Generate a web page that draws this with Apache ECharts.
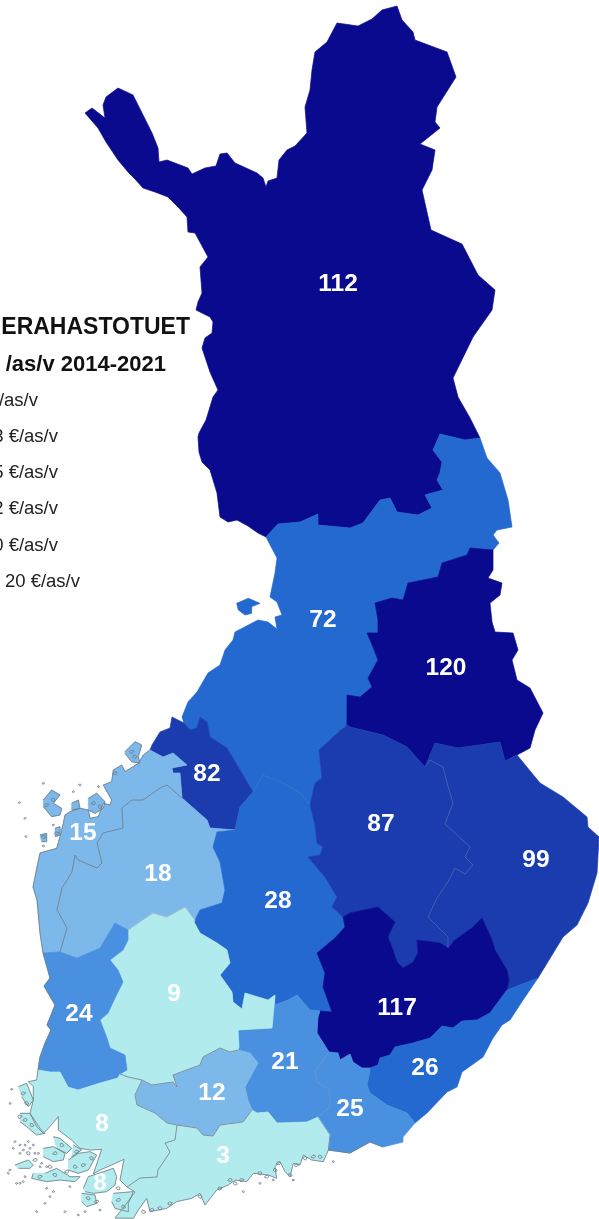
<!DOCTYPE html>
<html><head><meta charset="utf-8">
<style>html,body{margin:0;padding:0;background:#fff}#c{width:599px;height:1219px;overflow:hidden}</style>
<script src="https://cdn.jsdelivr.net/npm/echarts@6/dist/echarts.min.js"></script>
</head><body><div id="c"></div>
<script>
// ---------- values ----------
const regionNames = ['Lappi','Pohjois-Pohjanmaa','Kainuu','Keski-Pohjanmaa','Pohjanmaa','Etelä-Pohjanmaa','Keski-Suomi','Pohjois-Savo','Pohjois-Karjala','Etelä-Savo','Etelä-Karjala','Kymenlaakso','Päijät-Häme','Kanta-Häme','Pirkanmaa','Satakunta','Varsinais-Suomi','Uusimaa','Ahvenanmaa'];
const regionValues = [112,72,120,82,15,18,28,87,99,117,26,25,21,12,9,24,8,3,8];
const titleLines = ['ERAHASTOTUET','/as/v 2014-2021'];
const legendLabels = ['/as/v','3 €/as/v','5 €/as/v','2 €/as/v','0 €/as/v','20 €/as/v'];
const binLower = [0,10,20,26,80,110];
const binUpper = [10,20,26,80,110,130];
const binColors = ['#b2ebee','#7cb8e9','#4a90e0','#2469cf','#1b3cae','#0a0a8f'];

// ---------- region geometry: shared borders, in picture space ----------
const rev = a => a.slice().reverse();
const z = (ox,oy) => pts => pts.map(p => [ox+p[0]/3, oy+p[1]/3]);
const z8 = z(0,1070), z9 = z(120,1130), z10 = z(10,720);

const lapOuter = [[266,537],[258,533],[248,526],[237,520],[228,522],[220,517],[217,493],[210,470],[202,462],[199,452],[198,437],[199,433],[206,420],[213,397],[218,390],[210,372],[202,348],[205,338],[212,333],[213,322],[210,317],[196,310],[198,302],[202,293],[200,267],[208,257],[195,233],[188,232],[187,217],[178,207],[168,197],[155,192],[143,188],[134,178],[128,172],[118,160],[106,142],[98,128],[85,113],[92,108],[105,118],[103,105],[106,97],[118,88],[133,95],[152,133],[158,148],[159,162],[167,160],[188,168],[192,174],[205,168],[216,166],[220,154],[227,153],[235,163],[257,173],[263,178],[266,187],[268,181],[277,178],[279,160],[287,150],[295,146],[307,133],[305,107],[310,90],[312,70],[315,52],[327,42],[337,23],[358,26],[372,19],[382,10],[397,6],[402,20],[413,32],[415,40],[447,52],[456,77],[437,107],[435,122],[440,128],[420,144],[435,150],[432,170],[422,190],[431,230],[462,244],[478,275],[495,290],[492,310],[473,337],[453,378],[458,397],[470,418],[480,438]];
const lap72 = [[480,438],[465,440],[440,434],[433,450],[442,462],[440,473],[437,480],[443,490],[425,495],[432,508],[418,515],[397,512],[390,498],[380,500],[363,523],[350,528],[318,525],[318,514],[300,522],[278,524],[266,537]];
const coast72 = [[266,537],[277,558],[275,573],[270,597],[277,602],[282,615],[275,617],[277,629],[268,622],[258,620],[235,632],[233,640],[225,650],[220,665],[208,673],[197,692],[188,702],[182,717],[184,723]];
const a72_82 = [[184,723],[190,730],[197,728],[200,717],[207,722],[210,737],[227,748],[240,770],[253,792]];
const a72_28 = [[253,792],[260,780],[263,775],[283,783],[300,793],[310,805]];
const a72_87 = [[310,805],[315,783],[322,778],[319,750],[334,736],[347,725]];
const a72_120 = [[347,725],[347,695],[360,697],[372,687],[368,678],[378,660],[373,647],[367,633],[378,633],[378,620],[375,603],[392,598],[403,600],[408,583],[438,577],[442,563],[467,555],[470,548],[493,550]];
const east72 = [[493,550],[499,543],[493,535],[497,530],[512,527],[508,500],[500,473],[487,458],[480,438]];
const a120_87 = [[347,725],[350,727],[383,735],[407,747],[425,767]];
const a120_99 = [[425,767],[435,743],[458,748],[500,742],[505,761],[517,755]];
const east120 = [[517,755],[530,748],[535,730],[543,713],[530,688],[517,680],[512,660],[518,650],[513,633],[495,632],[492,622],[490,603],[500,595],[502,583],[488,578],[493,570],[493,550]];
const a87_99 = [[425,767],[430,760],[443,767],[447,783],[453,803],[445,824],[470,847],[465,857],[473,865],[465,874],[455,868],[448,882],[437,898],[428,917],[448,937],[448,948]];
const a87_117 = [[448,948],[440,943],[417,940],[418,953],[413,962],[403,968],[397,962],[393,950],[388,937],[395,922],[378,907],[350,913],[343,917]];
const a87_28 = [[343,917],[332,907],[337,897],[325,877],[313,863],[308,857],[320,855],[323,847],[317,843],[315,825],[310,805]];
const a99_117 = [[448,948],[455,940],[473,927],[482,918],[492,940],[495,950],[507,970],[509,980],[507,990]];
const a99_26 = [[507,990],[538,978]];
const east99 = [[538,978],[563,937],[577,925],[588,903],[597,873],[599,837],[588,827],[587,817],[563,797],[540,783],[517,755]];
const a117_26 = [[507,990],[490,1013],[477,1020],[462,1021],[453,1028],[442,1026],[430,1038],[413,1043],[395,1047],[390,1055],[380,1058],[378,1065],[370,1068]];
const a117_25 = [[370,1068],[362,1068],[353,1062],[350,1054],[340,1060],[338,1053],[329,1052]];
const a117_21 = [[329,1052],[317,1033],[318,1017],[320,1011]];
const a117_28 = [[320,1011],[332,1012],[323,987],[325,973],[317,953],[335,938],[345,927],[343,917]];
const a28_21 = [[320,1011],[310,1010],[297,995],[288,1000],[275,1005],[275,995]];
const a28_9 = [[275,995],[268,1000],[245,993],[242,1009],[233,1002],[232,992],[220,975],[230,963],[227,950],[217,943],[200,933],[194,922]];
const a28_18 = [[194,922],[200,910],[222,903],[225,890],[220,862],[213,847],[217,832],[235,830]];
const a28_82 = [[235,830],[240,807],[253,792]];
const a9_21 = [[275,995],[272,1028],[238,1030],[239,1047],[238,1050]];
const a9_12 = [[238,1050],[230,1052],[220,1048],[203,1057],[200,1065],[173,1075],[177,1087],[173,1082],[152,1085],[142,1080]];
const a9_8 = [[142,1080],[128,1077],[120,1074]];
const a9_24 = [[120,1074],[127,1070],[125,1055],[110,1048],[107,1038],[100,1020],[108,1013],[115,998],[123,982],[118,970],[110,960],[123,950],[128,940],[128,930]];
const a9_18 = [[128,930],[153,913],[167,917],[185,907],[195,920],[194,922]];
const a12_21 = [[238,1050],[250,1053],[258,1063],[245,1087],[248,1100],[252,1110]];
const a12_3 = [[252,1110],[243,1122],[220,1125],[213,1136],[203,1135],[197,1128],[177,1125]];
const a12_8 = [[177,1125],[167,1123],[155,1113],[137,1105],[135,1095],[142,1080]];
const a21_3 = [[252,1110],[257,1113],[268,1112],[277,1123],[307,1122],[318,1117]];
const a25_21 = [[318,1117],[330,1107],[330,1090],[317,1082],[315,1072],[329,1052]];
const a25_3 = [[318,1117],[330,1135]];
const coast25 = [[330,1135],[328,1150],[350,1153],[370,1142],[383,1147],[403,1142],[403,1137],[415,1123]];
const a25_26 = [[415,1123],[407,1113],[387,1105],[370,1093],[367,1085],[370,1070],[370,1068]];
const coast26 = [[415,1123],[427,1113],[447,1092],[457,1087],[462,1072],[483,1057],[493,1038],[502,1025],[510,1020],[523,1000],[538,978]];
const coast3 = [[330,1135]].concat(z9([[625,60],[610,95],[575,90],[550,75],[540,105],[520,100],[510,140],[495,125],[480,95],[465,110],[470,145],[445,135],[400,130],[380,155],[345,150],[325,165],[290,180],[255,225],[240,190],[215,205],[170,215],[140,235],[90,245],[80,205],[55,240],[40,265]]),[[115,1218],[127,1203],[135,1192],[127,1187]]);
const a3_8 = [[127,1187],[140,1178],[157,1177],[158,1170],[170,1152],[165,1143],[175,1140],[177,1125]];
const coast8 = [[127,1187]].concat(z8([[360,330],[372,268],[335,285],[300,300],[280,312],[305,238],[270,240],[240,235],[215,210],[175,180],[175,140],[145,175],[130,190],[110,170],[90,130],[100,90],[100,50],[85,35],[110,30],[114,0]]));
const a24_8 = [[38,1070],[50,1072],[60,1072],[68,1087],[78,1090],[100,1083],[118,1078],[120,1074]];
const a24_18 = [[128,930],[115,923],[100,948],[77,958],[60,952]];
const a15_24 = [[60,952],[43,953]];
const coast24 = [[43,953],[50,978],[44,986],[55,1005],[47,1025],[51,1030],[45,1043],[40,1057],[38,1070]];
const a15_18 = [[182,798],[167,785],[160,788],[143,800],[132,800],[122,808],[123,828],[103,833],[97,843],[102,863],[97,868],[78,860],[75,855],[72,872],[62,888],[57,910],[67,928],[60,952]];
const a15_82 = [[182,798],[180,773],[173,773],[172,768],[187,765],[173,753],[163,757],[150,750]];
const a82_18 = [[235,830],[210,828],[207,820],[182,798]];
const coast82 = [[150,750],[152,745],[160,732],[170,728],[172,717],[184,723]];
const coast15 = [[150,750]].concat(z10([[400,105],[385,130],[345,155],[335,135],[310,150],[305,185],[280,195],[305,240],[300,255],[280,250],[265,290],[240,295],[235,270],[210,265],[180,275],[165,285],[160,310],[150,350],[140,385]]),[[40,853],[37,867],[33,887],[37,900],[40,933],[43,953]]);

// islands
const hailuoto = z(180,430)([[170,520],[205,505],[240,520],[215,530],[215,550],[195,555],[175,540]]);
const islands15 = [[[100,240],[125,210],[150,225],[130,250],[155,265],[150,285],[125,290],[100,260]],[[235,235],[260,220],[285,245],[280,265],[255,280],[235,270]],[[185,250],[205,240],[210,265],[185,270]],[[345,95],[375,65],[395,75],[385,110],[390,130],[365,125],[345,100]],[[90,345],[110,340],[110,365],[95,365]],[[135,325],[150,320],[150,345],[135,350]]].map(z10);
const islands8 = [[[250,355],[265,320],[290,312],[340,295],[350,320],[345,345],[320,365],[280,370],[255,365]],[[205,270],[235,250],[270,245],[290,255],[265,300],[235,310],[205,300]],[[130,235],[160,230],[195,250],[190,270],[160,275],[130,260]],[[135,310],[170,295],[210,320],[240,320],[225,335],[180,330],[140,335],[95,325],[100,310]],[[60,130],[90,130],[120,175],[135,190],[110,195],[80,170],[60,155]],[[55,50],[80,40],[100,90],[85,110],[65,80]],[[45,285],[85,270],[100,285],[90,295],[55,295]],[[245,370],[285,375],[290,400],[260,410],[245,395]],[[340,370],[400,365],[385,400],[385,425],[345,415],[335,395]],[[160,200],[180,205],[215,235],[200,250],[170,235]],[[220,225],[245,240],[215,260]]].map(z8);
// small irregular skerry outlines, turned a quarter per item so they do not read as a repeated glyph
const skerryShape = [[-1,-0.1],[-0.3,-0.8],[1,-0.4],[0.5,0.6],[-0.5,1],[-1,-0.1]];
const skerry = (c,r,i) => skerryShape.map(p => {
  const q = [[p[0],p[1]],[-p[1],p[0]],[-p[0],-p[1]],[p[1],-p[0]]][i%4];
  return [c[0]+q[0]*r, c[1]+q[1]*r*0.8];
});
const specks = [].concat(
  z8([[45,215],[85,215],[70,240],[100,225],[115,250],[40,235],[60,250],[75,320],[30,300],[25,310],[35,58],[30,100],[135,400],[150,380],[160,365],[110,425],[195,425],[235,435],[140,355],[120,290],[60,340],[210,350],[90,235],[75,225],[60,225],[105,250],[125,280],[140,290],[50,340],[70,335],[255,425],[300,420]]),
  z10([[100,190],[210,195],[190,215],[265,200],[45,295],[48,350],[28,248],[100,378],[130,315]]),
  z9([[370,185],[420,160],[460,150],[520,150],[640,95]])
).map((c,i)=>skerry(c,1.2,i));
const shoreLoops = [].concat(
  z8([[70,70],[80,100],[75,150],[95,165],[60,140],[85,250],[105,270],[150,290],[120,320],[165,315],[200,305],[225,290],[250,285],[275,265],[165,250],[185,225],[230,245],[265,385],[355,390],[370,410],[290,395],[355,355]]),
  z9([[330,150],[345,160],[365,150],[420,130],[440,140],[465,120],[530,105],[555,85],[580,80],[600,80],[150,220],[120,235],[95,240],[70,245],[300,175],[240,200],[475,100],[510,135]]),
  z10([[110,255],[130,240],[250,250],[270,260],[365,95],[375,110],[315,160],[100,350],[140,340]])
).map((c,i)=>skerry(c,2.2,i));

const ring = (...arcs) => [].concat(...arcs);
const shapes = {
  'Lappi':[ring(lapOuter,lap72)],
  'Pohjois-Pohjanmaa':[ring(lap72,coast72,a72_82,a72_28,a72_87,a72_120,east72),hailuoto],
  'Kainuu':[ring(rev(a72_120),a120_87,a120_99,east120)],
  'Keski-Pohjanmaa':[ring(a82_18,a15_82,coast82,a72_82,rev(a28_82))],
  'Pohjanmaa':[ring(rev(a15_18),a15_82,coast15,a15_24)].concat(islands15),
  'Etelä-Pohjanmaa':[ring(a9_18,a28_18,a82_18,a15_18,rev(a24_18))],
  'Keski-Suomi':[ring(a72_28,rev(a87_28),rev(a117_28),a28_21,a28_9,a28_18,a28_82)],
  'Pohjois-Savo':[ring(a72_87,a120_87,a87_99,a87_117,a87_28)],
  'Pohjois-Karjala':[ring(rev(a120_99),a87_99,a99_117,a99_26,east99)],
  'Etelä-Savo':[ring(rev(a87_117),a99_117,a117_26,a117_25,a117_21,a117_28)],
  'Etelä-Karjala':[ring(a117_26,rev(a25_26),coast26,rev(a99_26))],
  'Kymenlaakso':[ring(rev(a25_21),a25_3,coast25,a25_26,a117_25)],
  'Päijät-Häme':[ring(a9_21,a12_21,a21_3,a25_21,a117_21,a28_21)],
  'Kanta-Häme':[ring(rev(a9_12),a12_21,a12_3,a12_8)],
  'Pirkanmaa':[ring(rev(a28_9),a9_21,a9_12,a9_8,a9_24,a9_18)],
  'Satakunta':[ring(a24_8,a9_24,a24_18,a15_24,coast24)],
  'Varsinais-Suomi':[ring(rev(a3_8),coast8,a24_8,rev(a9_8),rev(a12_8))],
  'Uusimaa':[ring(rev(a12_3),a21_3,a25_3,coast3,a3_8)],
  'Ahvenanmaa':islands8
};
const labelAt = {'Lappi':[338,284],'Pohjois-Pohjanmaa':[323,620],'Kainuu':[446,668],'Keski-Pohjanmaa':[207,774],'Pohjanmaa':[83,833],'Etelä-Pohjanmaa':[158,874],'Keski-Suomi':[278,901],'Pohjois-Savo':[381,824],'Pohjois-Karjala':[536,860],'Etelä-Savo':[397,1008],'Etelä-Karjala':[425,1068],'Kymenlaakso':[350,1109],'Päijät-Häme':[285,1062],'Kanta-Häme':[212,1093],'Pirkanmaa':[174,994],'Satakunta':[79,1014],'Varsinais-Suomi':[102,1124],'Uusimaa':[223,1156],'Ahvenanmaa':[100,1183]};

const geojson = {type:'FeatureCollection',features:regionNames.map(n=>({
  type:'Feature',properties:{name:n,cp:labelAt[n]},
  geometry:{type:'MultiPolygon',coordinates:shapes[n].map(r=>[r])}
}))};

// thin region and shoreline strokes
const greyStroke = '#6e7b85';
const strokeSets = [
  {color:greyStroke,width:0.8,arcs:[a15_18,a3_8,a9_12,a12_8,a12_3,a9_8,coast3,coast8,coast15,coast24,[[328,1150],[350,1153],[370,1142],[383,1147]]].concat(islands15,islands8,specks,shoreLoops)},
  {color:'#8aa0b5',width:0.6,arcs:[a9_18]},
  {color:'#6f93c4',width:0.7,arcs:[a25_21,a25_3]},
  {color:'#3f72c0',width:0.7,arcs:[a72_28]},
  {color:'#4a62b4',width:0.8,arcs:[a87_99]}
];
const strokeData = [];
strokeSets.forEach(s=>s.arcs.forEach(a=>strokeData.push({coords:a,lineStyle:{color:s.color,width:s.width,opacity:1}})));

echarts.registerMap('fi',geojson);
const chart = echarts.init(document.getElementById('c'),null,{renderer:'canvas'});
const projection = {project:p=>[p[0],p[1]],unproject:p=>[p[0],p[1]]};
const place = {map:'fi',projection,boundingCoords:[[0,0],[599,1219]],layoutCenter:[299.5,609.5],layoutSize:1219,roam:false};
const colorOf = v => binColors[binLower.findIndex((lo,i)=>v>=lo&&v<binUpper[i])];

const legendEnd = [38,58,58,58,58,80];
const legendY = [400.5,437,473,509,545.5,582];
const textEls = [
  {type:'text',style:{x:190,y:328,text:titleLines[0],align:'right',verticalAlign:'middle',font:'bold 23px "Liberation Sans"',fill:'#111'}},
  {type:'text',style:{x:166,y:365,text:titleLines[1],align:'right',verticalAlign:'middle',font:'bold 22px "Liberation Sans"',fill:'#111'}}
].concat(legendLabels.map((t,i)=>({type:'text',style:{x:legendEnd[i],y:legendY[i],text:t,align:'right',verticalAlign:'middle',font:'18.5px "Liberation Sans"',fill:'#222'}})));

chart.setOption({
  animation:false,
  backgroundColor:'#fff',
  geo:Object.assign({},place,{silent:true,z:0,label:{show:false},itemStyle:{areaColor:'rgba(0,0,0,0)',borderWidth:0},emphasis:{disabled:true}}),
  visualMap:{type:'piecewise',show:false,seriesIndex:0,dimension:0,pieces:binLower.map((lo,i)=>({gte:lo,lt:binUpper[i],color:binColors[i]}))},
  series:[
    Object.assign({},place,{type:'map',z:2,silent:true,selectedMode:false,
      label:{show:true,color:'#fff',fontFamily:'Liberation Sans',fontWeight:'bold',fontSize:24.5},
      emphasis:{disabled:true},
      data:regionNames.map((n,i)=>({name:n,value:regionValues[i],itemStyle:{borderColor:colorOf(regionValues[i]),borderWidth:0.7},label:{show:true,formatter:String(regionValues[i])}}))
    }),
    {type:'lines',coordinateSystem:'geo',geoIndex:0,polyline:true,silent:true,z:3,data:strokeData}
  ],
  graphic:{elements:textEls}
});
</script></body></html>
